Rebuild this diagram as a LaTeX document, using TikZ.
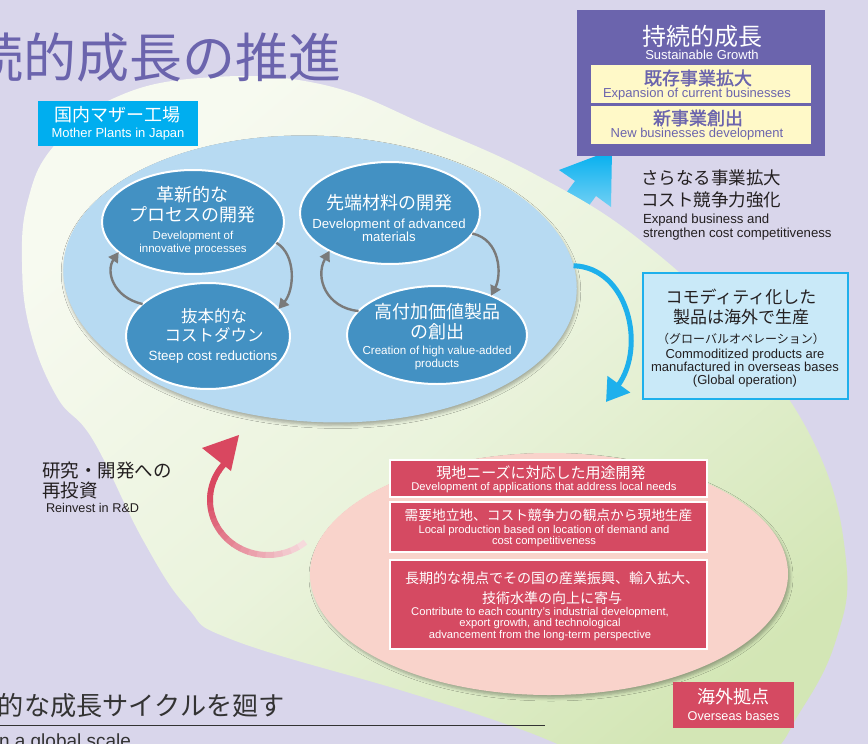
\documentclass[tikz,border=0pt]{standalone}
\usepackage{fontspec}
\setmainfont{Liberation Sans}
\newfontfamily\jp{Noto Sans CJK JP}
\newfontfamily\jpb{Noto Sans CJK JP}[FakeBold=1.6]
\usetikzlibrary{shapes.geometric,arrows.meta,shadows,shadows.blur}
\definecolor{bg}{HTML}{D9D6EB}
\definecolor{purp}{HTML}{6B64AD}
\definecolor{yel}{HTML}{FFF9C8}
\definecolor{cyanL}{HTML}{00AEEF}
\definecolor{cyanP}{HTML}{BDE7F8}
\definecolor{commfill}{HTML}{C9E9F8}
\definecolor{commline}{HTML}{1EB0EC}
\definecolor{bigblue}{HTML}{B7DAF2}
\definecolor{darkblue}{HTML}{4391C3}
\definecolor{garrow}{HTML}{7A7A7A}
\definecolor{pinkE}{HTML}{F9D3CB}
\definecolor{redB}{HTML}{D54A62}
\definecolor{txt}{HTML}{231F20}
\definecolor{leafA}{HTML}{F7FAF0}
\definecolor{leafB}{HTML}{EAF3DC}
\definecolor{leafC}{HTML}{D3E6B5}
\definecolor{redA}{HTML}{D94760}
\definecolor{redT}{HTML}{F6DADC}
\definecolor{titlegray}{HTML}{333333}
\tikzset{
  J/.style 2 args={font={\jp\fontsize{#1}{#2}\selectfont}},
  JB/.style 2 args={font={\jpb\fontsize{#1}{#2}\selectfont}},
  E/.style 2 args={font={\fontsize{#1}{#2}\selectfont}},
  smallell/.style={ellipse, fill=darkblue, draw=white, line width=2pt, inner sep=0pt},
  grayarr/.style={draw=garrow, line width=2.4pt, -{Triangle[length=10pt,width=11pt]}},
  redbox/.style={fill=redB, draw=white, line width=1.2pt},
}
\begin{document}
\begin{tikzpicture}[x=1pt,y=-1pt, every node/.style={inner sep=0pt, outer sep=0pt}]
\useasboundingbox (0,0) rectangle (868,744);
\clip (0,0) rectangle (868,744);
\fill[bg] (0,0) rectangle (868,744);

% upward cyan arrow to sustainable growth
\shade[top color=cyanL, bottom color=cyanP]
  (612,150) -- (611,207) -- (596,196) -- (560,245) -- (539,229) -- (575,181) -- (559,170) -- cycle;

% big leaf
\shade[top color=leafA, bottom color=leafC, middle color=leafB, shading angle=40]
  plot[smooth cycle, tension=0.7] coordinates {
  (22,262) (28,200) (53,147) (110,100) (200,78) (320,84) (433,128) (540,177)
  (640,240) (735,330) (815,445) (846,560) (836,640) (800,712) (760,760)
  (660,790) (567,748) (500,722) (400,690) (233,640) (187,607) (143,540)
  (93,440) (57,397) (30,330)};

% title
\node[J={53}{60}, text=purp, anchor=east] (title) at (342,57) {持続的成長の推進};

% mother plants ellipse
\node[ellipse, fill=bigblue, minimum width=514pt, minimum height=286pt, rotate=-3,
  blur shadow={shadow xshift=1pt, shadow yshift=-3pt, shadow blur steps=5, shadow opacity=30, shadow blur radius=3pt}]
  (mother) at (320,279) {};

% four process ellipses
\node[smallell, minimum width=182pt, minimum height=104pt] (e1) at (193,222) {};
\node[smallell, minimum width=180pt, minimum height=102pt] (e2) at (390,213) {};
\node[smallell, minimum width=164pt, minimum height=106pt] (e3) at (208,336) {};
\node[smallell, minimum width=180pt, minimum height=98pt] (e4) at (437,335) {};

\node[J={18}{20}, text=white, align=center] (t1j) at (192,205) {革新的な\\プロセスの開発};
\node[E={11.5}{12.5}, text=white, align=center] (t1e) at (193,243) {Development of\\innovative processes};
\node[J={18}{20}, text=white, align=center] (t2j) at (389,203) {先端材料の開発};
\node[E={13.2}{13}, text=white, align=center] (t2e) at (389,230) {Development of advanced\\materials};
\node[J={16.5}{19}, text=white, align=center] (t3j) at (214,326) {抜本的な\\コストダウン};
\node[E={13.4}{13}, text=white, align=center] (t3e) at (213,357) {Steep cost reductions};
\node[J={18}{20}, text=white, align=center] (t4j) at (437,322) {高付加価値製品\\の創出};
\node[E={11.6}{13}, text=white, align=center] (t4e) at (437,358) {Creation of high value-added\\products};

% gray cycle arrows
\draw[grayarr] (e1.-14) .. controls +(20,12) and +(16,-19) .. (e3.21);
\draw[grayarr] (e3.154) .. controls +(-30,-7) and +(-13,19) .. (e1.202);
\draw[grayarr] (e2.-14) .. controls +(28,6) and +(11,-21) .. (e4.36);
\draw[grayarr] (e4.163) .. controls +(-32,-3) and +(-15,27) .. (e2.212);

% mother plants label
\node[fill=cyanL, minimum width=160pt, minimum height=45pt] (mlab) at (118,123.5) {};
\node[J={18}{20}, text=white] (mlabj) at (117,115) {国内マザー工場};
\node[E={13}{14}, text=white] (mlabe) at (118,134) {Mother Plants in Japan};

% sustainable growth box
\node[fill=purp, minimum width=248pt, minimum height=146pt] (sg) at (701,83) {};
\node[J={24}{26}, text=white] (sgj) at (702,36) {持続的成長};
\node[E={13}{14}, text=white] (sge) at (702,55) {Sustainable Growth};
\node[fill=yel, minimum width=220pt, minimum height=38pt] (y1) at (701,84) {};
\node[JB={18}{20}, text=purp] (y1j) at (698,78) {既存事業拡大};
\node[E={13}{14}, text=purp] (y1e) at (697,94) {Expansion of current businesses};
\node[fill=yel, minimum width=220pt, minimum height=38pt] (y2) at (701,125) {};
\node[JB={18}{20}, text=purp] (y2j) at (698,118) {新事業創出};
\node[E={13}{14}, text=purp] (y2e) at (697,134) {New businesses development};

% expand business text
\node[J={17.5}{22}, text=txt, anchor=west, align=left] (exj) at (641,189) {さらなる事業拡大\\コスト競争力強化};
\node[E={13.2}{14}, text=txt, anchor=west, align=left] (exe) at (643,227) {Expand business and\\strengthen cost competitiveness};

% cyan curved arrow towards overseas
\coordinate (cend) at (606,402);
\draw[commline, line width=5pt, -{Triangle[length=22pt,width=27pt]}]
  (mother.6) .. controls +(55,2) and +(40,-55) .. (cend);

% commodity box
\node[fill=commfill, draw=commline, line width=2pt, minimum width=205pt, minimum height=126pt] (comm) at (745.5,336) {};
\node[J={17}{20.5}, text=txt, align=center] (commj) at (741,307) {コモディティ化した\\製品は海外で生産};
\node[J={12}{14}, text=txt] (commg) at (741,339) {（グローバルオペレーション）};
\node[E={13}{13}, text=txt, align=center] (comme) at (745,368) {Commoditized products are\\manufactured in overseas bases\\(Global operation)};

% overseas ellipse
\node[ellipse, fill=pinkE, minimum width=478pt, minimum height=242pt,
  blur shadow={shadow xshift=2pt, shadow yshift=-3pt, shadow blur steps=5, shadow opacity=30, shadow blur radius=3pt}]
  (os) at (549,574) {};

\node[redbox, minimum width=317pt, minimum height=37pt] (b1) at (548.5,478.5) {};
\node[J={15}{16}, text=white] (b1j) at (541,473) {現地ニーズに対応した用途開発};
\node[E={11.2}{11.5}, text=white] (b1e) at (544,488) {Development of applications that address local needs};

\node[redbox, minimum width=317pt, minimum height=50pt] (b2) at (548.5,527) {};
\node[J={13.7}{16}, text=white] (b2j) at (548.5,515) {需要地立地、コスト競争力の観点から現地生産};
\node[E={11.2}{11.3}, text=white, align=center] (b2e) at (544,536) {Local production based on location of demand and\\cost competitiveness};

\node[redbox, minimum width=317pt, minimum height=89pt] (b3) at (548.5,604.5) {};
\node[J={14}{20}, text=white, align=center] (b3j) at (552,588) {長期的な視点でその国の産業振興、輸入拡大、\\技術水準の向上に寄与};
\node[E={11.2}{11.2}, text=white, align=center] (b3e) at (540,624) {Contribute to each country's industrial development,\\export growth, and technological\\advancement from the long-term perspective};

% red reinvest arrow (fading)
\foreach \i in {0,...,19} {
  \pgfmathsetmacro\aa{50+\i*8.5}
  \pgfmathsetmacro\bb{\aa+9.2}
  \pgfmathsetmacro\pp{min(100,\i*6.5)}
  \draw[line width=6pt, color=redA!\pp!redT]
    plot[domain=\aa:\bb, samples=5, variable=\t] ({268+58*cos(\t)},{500+55*sin(\t)});
}
\coordinate (rtip) at (239,435);
\fill[redA] (rtip) -- (202,448) -- (231,471) -- cycle;

\node[J={18.5}{20}, text=txt, anchor=west, align=left] (rij) at (42,480) {研究・開発への\\再投資};
\node[E={12.7}{14}, text=txt, anchor=west] (rie) at (46,508) {Reinvest in R\&D};

% overseas label
\node[fill=redB, minimum width=121pt, minimum height=46pt] (olab) at (733.5,705) {};
\node[J={18}{20}, text=white] (olabj) at (733.5,697) {海外拠点};
\node[E={12.7}{14}, text=white] (olabe) at (733.5,716) {Overseas bases};

% bottom heading
\node[J={26.2}{28}, text=titlegray, anchor=west] (bt) at (-2,706) {的な成長サイクルを廻す};
\coordinate (ul0) at (0,725);
\coordinate (ul1) at (545,725);
\draw[titlegray, line width=1pt] (ul0) -- (ul1);
\node[E={19}{20}, text=titlegray, anchor=base west] (bte) at (-1,747) {n a global scale};
\end{tikzpicture}
\end{document}
